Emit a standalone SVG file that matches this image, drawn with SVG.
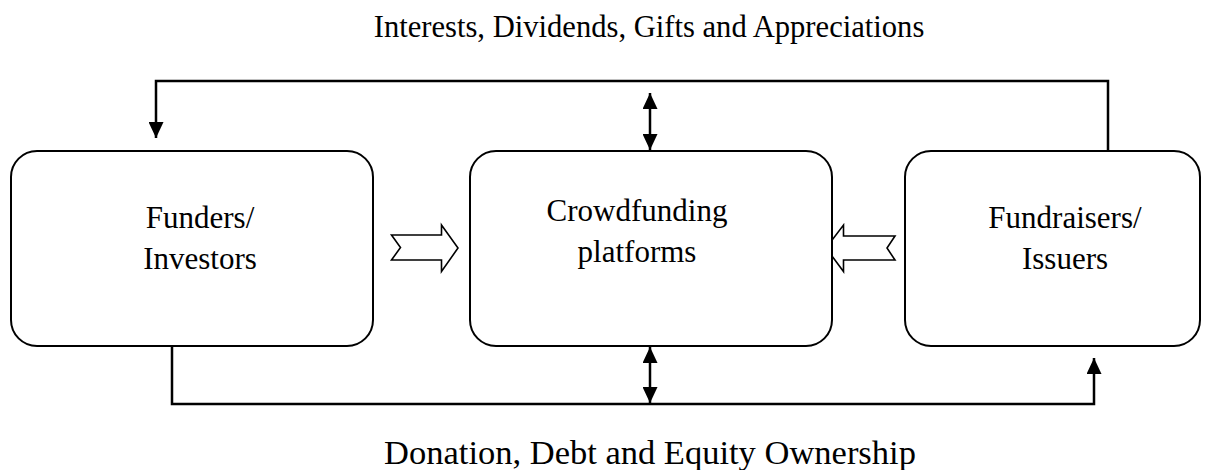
<svg xmlns="http://www.w3.org/2000/svg" width="1212" height="470" viewBox="0 0 1212 470">
  <defs>
    <marker id="head" viewBox="0 0 16 15" refX="16" refY="7.5" markerWidth="16" markerHeight="15" markerUnits="userSpaceOnUse" orient="auto-start-reverse">
      <path d="M0,0 L16,7.5 L0,15 Z" fill="#000"/>
    </marker>
    <style>
      .box { fill: #fff; stroke: #000; stroke-width: 2; }
      .txt { font-family: "Liberation Serif", "Times New Roman", serif; font-size: 31px; fill: #000; text-anchor: middle; }
      .lbl { font-family: "Liberation Serif", "Times New Roman", serif; font-size: 30.6px; fill: #000; text-anchor: middle; }
      .line { fill: none; stroke: #000; stroke-width: 2.5; }
      .hollow { fill: #fff; stroke: #000; stroke-width: 1.6; stroke-linejoin: miter; }
    </style>
  </defs>
  <rect width="1212" height="470" fill="#fff"/>

  <text class="lbl" x="649" y="37">Interests, Dividends, Gifts and Appreciations</text>
  <text class="lbl" x="650" y="464" style="font-size:34.5px">Donation, Debt and Equity Ownership</text>

  <g id="connectors">
    <!-- returns flowing back to funders -->
    <path class="line" d="M1108,151 V81 H156 V138" marker-end="url(#head)"/>
    <!-- funding flowing to fundraisers -->
    <path class="line" d="M172,346 V404 H1094 V358" marker-end="url(#head)"/>
    <!-- platform links -->
    <path class="line" d="M650,93 V150" marker-start="url(#head)" marker-end="url(#head)"/>
    <path class="line" d="M650,347 V403" marker-start="url(#head)" marker-end="url(#head)"/>
    <!-- hollow flow arrows -->
    <path class="hollow" d="M391.5,235 H441.5 V225 L458,248 L441.5,271.5 V260 H391.5 L400.5,247.5 Z"/>
    <path class="hollow" d="M895,236 H843.5 V225 L826,248 L843.5,271.5 V260 H895 L887,248 Z"/>
  </g>

  <g id="funders">
    <rect class="box" x="11" y="151" width="362" height="195" rx="26" ry="26"/>
    <text class="txt" x="200" y="228">Funders/</text>
    <text class="txt" x="200" y="269">Investors</text>
  </g>

  <g id="platforms">
    <rect class="box" x="470" y="151" width="362" height="195" rx="26" ry="26"/>
    <text class="txt" x="637" y="221">Crowdfunding</text>
    <text class="txt" x="637" y="262">platforms</text>
  </g>

  <g id="fundraisers">
    <rect class="box" x="905" y="151" width="295" height="195" rx="26" ry="26"/>
    <text class="txt" x="1065" y="228">Fundraisers/</text>
    <text class="txt" x="1065" y="269">Issuers</text>
  </g>
</svg>
